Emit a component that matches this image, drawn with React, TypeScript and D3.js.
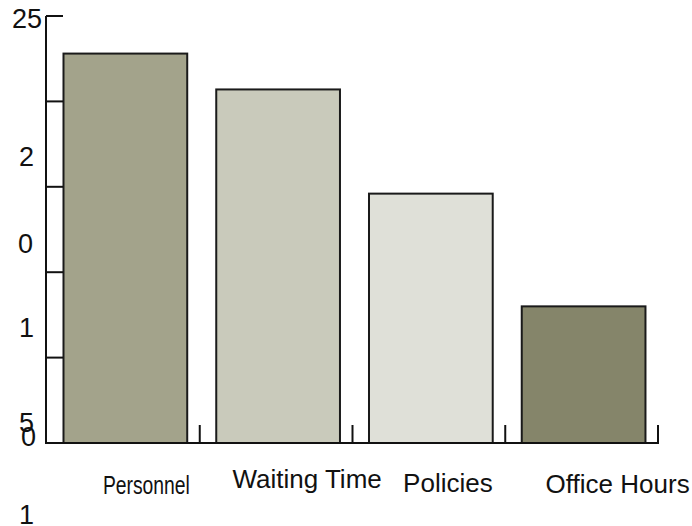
import React from "react";
import * as d3 from "d3";

const categories = ["Personnel", "Waiting Time", "Policies", "Office Hours"];
const values = [22.8, 20.7, 14.6, 8.0];
const barColors = ["#a3a38b", "#c9cabb", "#dfe0d8", "#85856a"];
const yTickValues = [0, 5, 10, 15, 20, 25];
// garbled y labels as they appear in the reference, with the y value they sit at
const yLabelTexts = ["25", "2", "0", "1", "5", "0", "1"];
const yLabelAt = [24.3, 16.2, 11.15, 6.2, 0.65, -0.2, -4.75];
const yLabelX = [12, 19, 18, 19, 19, 21, 19];
const xLabelDx = [23, 31, 19, 36];
const xLabelY = [494, 488, 492, 493];

const W = 692;
const H = 526;

export default function App() {
  const x = d3.scaleBand<string>().domain(categories).range([47, 658]).padding(0);
  const y = d3.scaleLinear().domain([0, 25]).range([443, 16]);
  const bw = x.bandwidth();
  const font = "'Liberation Sans', Arial, sans-serif";
  return (
    <svg
      width={W}
      height={H}
      style={{ position: "absolute", left: 0, top: 0, background: "#fff" }}
    >
      {categories.map((c, i) => (
        <rect
          key={c}
          x={(x(c) as number) + bw * 0.108}
          y={y(values[i])}
          width={bw * 0.81}
          height={y(0) - y(values[i])}
          fill={barColors[i]}
          stroke="#1a1a1a"
          strokeWidth={2}
        />
      ))}
      {/* y axis */}
      <line x1={46} x2={46} y1={y(25)} y2={y(0) + 1} stroke="#111" strokeWidth={2} />
      {yTickValues.filter((v) => v > 0).map((v) => (
        <line key={v} x1={46} x2={63} y1={y(v)} y2={y(v)} stroke="#111" strokeWidth={2} />
      ))}
      {/* x axis */}
      <line x1={45} x2={659} y1={y(0)} y2={y(0)} stroke="#111" strokeWidth={2} />
      {categories.map((c) => (
        <line
          key={"t" + c}
          x1={(x(c) as number) + bw}
          x2={(x(c) as number) + bw}
          y1={y(0) - 18}
          y2={y(0)}
          stroke="#111"
          strokeWidth={2}
        />
      ))}
      {yLabelTexts.map((t, i) => (
        <text
          key={"yl" + i}
          x={yLabelX[i]}
          y={y(yLabelAt[i])}
          fontFamily={font}
          fontSize={27}
          fill="#111"
        >
          {t}
        </text>
      ))}
      {categories.map((c, i) => (
        <text
          key={"xl" + c}
          x={(x(c) as number) + bw / 2 + xLabelDx[i]}
          y={xLabelY[i]}
          textAnchor="middle"
          fontFamily={font}
          fontSize={26}
          fill="#111"
          {...(i === 0 ? { textLength: 87, lengthAdjust: "spacingAndGlyphs" } : {})}
        >
          {c}
        </text>
      ))}
    </svg>
  );
}
